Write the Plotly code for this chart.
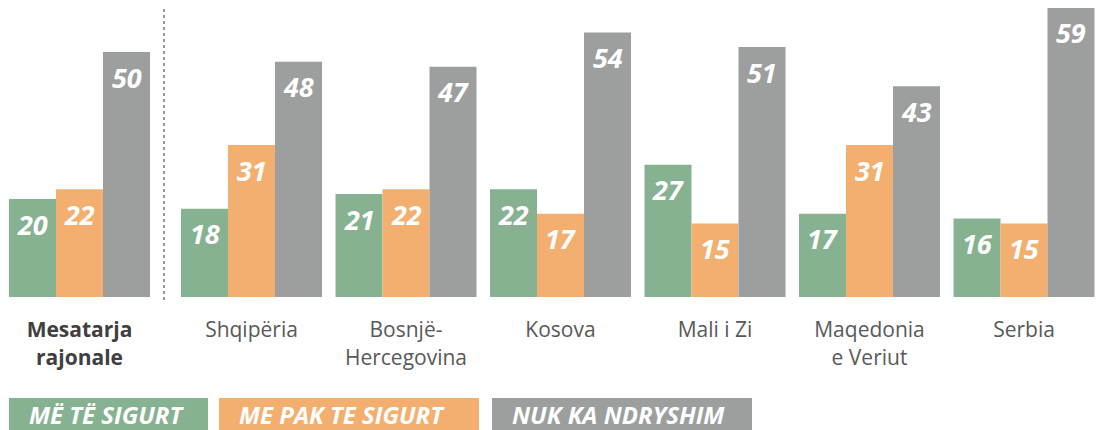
import plotly.graph_objects as go
import numpy as np

# ---- data ----
categories = ["<span style='color:#404040'><b>Mesatarja<br>rajonale</b></span>",
              "Shqipëria", "Bosnjë-<br>Hercegovina", "Kosova", "Mali i Zi",
              "Maqedonia<br>e Veriut", "Serbia"]
series_names = ["MË TË SIGURT", "ME PAK TE SIGURT", "NUK KA NDRYSHIM"]
more_secure = [20, 18, 21, 22, 27, 17, 16]
less_secure = [22, 31, 22, 17, 15, 31, 15]
no_change = [50, 48, 47, 54, 51, 43, 59]

series_values = [more_secure, less_secure, no_change]
colors = ["#87B291", "#F3AF6F", "#9C9F9E"]

# ---- layout constants ----
W, H = 1096, 430
PLOT_BOTTOM = 297          # px of baseline
PX_PER_UNIT = 4.9
X0_PX, PITCH_PX = 97.0, 154.5
BAR_W = 47 / PITCH_PX
SEP_GAP = 0.1133
x_pos = np.array([-SEP_GAP] + list(range(1, 7)), dtype=float)

fig = go.Figure()
for i, (name, vals, col) in enumerate(zip(series_names, series_values, colors)):
    fig.add_trace(go.Bar(
        x=x_pos + (i - 1) * BAR_W, y=vals, name=name, width=BAR_W,
        marker=dict(color=col, line=dict(width=0)), showlegend=False,
        hoverinfo="skip"))
    for xp, v in zip(x_pos + (i - 1) * BAR_W, vals):
        fig.add_annotation(x=xp, y=v, xref="x", yref="y", text=f"<b><i>{v}</i></b>",
                           showarrow=False, yanchor="middle", yshift=-25,
                           font=dict(family="Open Sans", size=27, color="white"))

def px_to_paper_x(px):
    return px / W

def px_to_paper_y(py):
    return (PLOT_BOTTOM - py) / PLOT_BOTTOM

# dotted separator
sep_x = (164 - X0_PX) / PITCH_PX
fig.add_shape(type="line", xref="x", yref="paper", x0=sep_x, x1=sep_x,
              y0=px_to_paper_y(300), y1=px_to_paper_y(9),
              line=dict(color="#555555", width=1.2, dash="dot"))

# legend boxes
boxes = [(9, 208), (219, 479), (492, 752)]
for (bx0, bx1), name, col in zip(boxes, series_names, colors):
    fig.add_shape(type="rect", xref="paper", yref="paper",
                  x0=px_to_paper_x(bx0), x1=px_to_paper_x(bx1),
                  y0=px_to_paper_y(430), y1=px_to_paper_y(398),
                  fillcolor=col, line=dict(width=0), layer="above")
    fig.add_annotation(xref="paper", yref="paper", x=px_to_paper_x(bx0 + 18),
                       y=px_to_paper_y(414), xanchor="left", yanchor="middle",
                       text=f"<b><i>{name}</i></b>", showarrow=False,
                       font=dict(family="Open Sans", size=24, color="white"))

fig.update_layout(
    width=W, height=H, margin=dict(l=0, r=0, t=0, b=H - PLOT_BOTTOM),
    paper_bgcolor="white", plot_bgcolor="white",
    barmode="overlay",
    xaxis=dict(range=[-X0_PX / PITCH_PX, (W - X0_PX) / PITCH_PX],
               tickvals=x_pos, ticktext=categories, showgrid=False,
               zeroline=False, showline=False, ticks="outside", ticklen=14,
               tickcolor="rgba(0,0,0,0)",
               tickfont=dict(family="Open Sans", size=21, color="#595959")),
    yaxis=dict(range=[0, PLOT_BOTTOM / PX_PER_UNIT], visible=False),
    font=dict(family="Open Sans"),
)

fig.write_html("out.html", config={"displayModeBar": False},
               post_script="document.body.style.margin='0';document.body.style.overflow='hidden';")
